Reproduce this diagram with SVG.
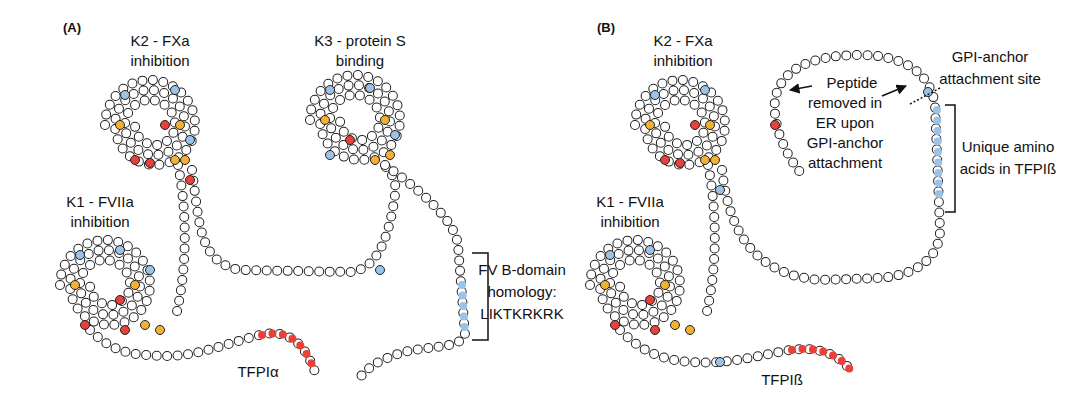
<svg xmlns="http://www.w3.org/2000/svg" width="1092" height="414" viewBox="0 0 1092 414">
<defs>
<style>
.o{fill:none;stroke:#222;stroke-width:10;stroke-linecap:round;stroke-dasharray:0 10.5}
.w{fill:none;stroke:#fff;stroke-width:8;stroke-linecap:round;stroke-dasharray:0 10.5}
.b{fill:none;stroke:#9cc3e6;stroke-width:8;stroke-linecap:round;stroke-dasharray:0 10.5}
.r{fill:none;stroke:#e8413a;stroke-width:8;stroke-linecap:round;stroke-dasharray:0 10.5}
.cb{fill:#9cc3e6;stroke:#222;stroke-width:1}
.cr{fill:#e8413a;stroke:#222;stroke-width:1}
.cy{fill:#f2b134;stroke:#222;stroke-width:1}
text{font-family:"Liberation Sans",Arial,sans-serif;font-size:15px;fill:#111;text-anchor:middle}
.ln{fill:none;stroke:#111;stroke-width:1.5}
</style>
<path id="sp" d="M-45,0 A45,45 0 0 1 45,0 A40,40 0 0 1 -35,0 A35,35 0 0 1 35,0 A30,30 0 0 1 -25,0 A25,25 0 0 1 25,0 A20,20 0 0 1 -15,0"/>
<path id="cA1" d="M178,165 C185,200 190,260 175,320"/>
<path id="cA2" d="M192,170 C200,230 200,262 240,270 L350,272 C380,270 390,230 395,195 C398,175 385,168 382,162"/>
<path id="cA3" d="M385,165 C420,190 455,220 458,245 L465,335 C460,350 420,345 395,355 C375,362 365,370 358,380"/>
<path id="cA4" d="M90,330 C110,350 130,355 150,355 C190,360 220,345 260,335 C290,328 305,345 315,372"/>
<path id="cB1" d="M708,165 C715,200 720,260 705,320"/>
<path id="cB2" d="M722,170 C730,240 760,275 820,280 L880,278 C920,275 940,255 940,230 L935,105 C930,70 900,55 860,55 C810,55 780,70 775,100 C772,130 790,160 800,172"/>
<path id="cB4" d="M620,330 C640,350 660,360 690,362 C730,365 760,355 790,350 C820,346 840,355 852,372"/>
<marker id="ar" viewBox="0 0 10 10" refX="9" refY="5" markerWidth="7" markerHeight="7" orient="auto-start-reverse"><path d="M0,0L10,5L0,10z" fill="#111"/></marker>
</defs>
<g id="connectors">
<use href="#cA1" class="o"/><use href="#cA1" class="w"/>
<use href="#cA2" class="o"/><use href="#cA2" class="w"/>
<use href="#cA3" class="o"/><use href="#cA3" class="w"/>
<use href="#cA4" class="o"/><use href="#cA4" class="w"/>
<use href="#cB1" class="o"/><use href="#cB1" class="w"/>
<use href="#cB2" class="o"/><use href="#cB2" class="w"/>
<use href="#cB4" class="o"/><use href="#cB4" class="w"/>
<path class="b" d="M462,285 L465,335"/>
<path class="r" d="M262,335 C290,328 305,345 315,372"/>
<path class="r" d="M792,350 C820,346 840,355 852,372"/>
<path class="b" d="M937,110 L939,200"/>
</g>
<g id="K2A"><use href="#sp" x="150" y="125" class="o"/><use href="#sp" x="150" y="125" class="w"/></g>
<g id="K3A"><use href="#sp" x="355" y="120" class="o"/><use href="#sp" x="355" y="120" class="w"/></g>
<g id="K1A"><use href="#sp" x="105" y="285" class="o"/><use href="#sp" x="105" y="285" class="w"/></g>
<g id="K2B"><use href="#sp" x="680" y="125" class="o"/><use href="#sp" x="680" y="125" class="w"/></g>
<g id="K1B"><use href="#sp" x="635" y="285" class="o"/><use href="#sp" x="635" y="285" class="w"/></g>
<g id="colored">
<circle class="cy" cx="120" cy="125" r="4.5"/><circle class="cy" cx="180" cy="125" r="4.5"/><circle class="cy" cx="175" cy="160" r="4.5"/><circle class="cy" cx="185" cy="160" r="4.5"/>
<circle class="cr" cx="135" cy="160" r="4.5"/><circle class="cr" cx="150" cy="163" r="4.5"/><circle class="cr" cx="165" cy="125" r="4.5"/><circle class="cr" cx="190" cy="180" r="4.5"/>
<circle class="cb" cx="125" cy="95" r="4.5"/><circle class="cb" cx="175" cy="90" r="4.5"/><circle class="cb" cx="190" cy="140" r="4.5"/>
<circle class="cy" cx="325" cy="120" r="4.5"/><circle class="cy" cx="385" cy="120" r="4.5"/><circle class="cy" cx="375" cy="160" r="4.5"/><circle class="cy" cx="390" cy="155" r="4.5"/>
<circle class="cb" cx="330" cy="90" r="4.5"/><circle class="cb" cx="370" cy="88" r="4.5"/><circle class="cb" cx="395" cy="135" r="4.5"/><circle class="cb" cx="330" cy="155" r="4.5"/><circle class="cb" cx="380" cy="270" r="4.5"/><circle class="cr" cx="350" cy="140" r="4.5"/>
<circle class="cy" cx="75" cy="285" r="4.5"/><circle class="cy" cx="135" cy="285" r="4.5"/><circle class="cy" cx="145" cy="325" r="4.5"/><circle class="cy" cx="160" cy="330" r="4.5"/>
<circle class="cr" cx="85" cy="325" r="4.5"/><circle class="cr" cx="120" cy="300" r="4.5"/><circle class="cr" cx="125" cy="330" r="4.5"/>
<circle class="cb" cx="80" cy="255" r="4.5"/><circle class="cb" cx="120" cy="250" r="4.5"/><circle class="cb" cx="150" cy="270" r="4.5"/>
<circle class="cy" cx="650" cy="125" r="4.5"/><circle class="cy" cx="710" cy="125" r="4.5"/><circle class="cy" cx="705" cy="160" r="4.5"/><circle class="cy" cx="715" cy="160" r="4.5"/>
<circle class="cr" cx="665" cy="160" r="4.5"/><circle class="cr" cx="680" cy="163" r="4.5"/><circle class="cr" cx="695" cy="125" r="4.5"/><circle class="cr" cx="775" cy="125" r="4.5"/>
<circle class="cb" cx="655" cy="95" r="4.5"/><circle class="cb" cx="705" cy="90" r="4.5"/><circle class="cb" cx="720" cy="190" r="4.5"/><circle class="cb" cx="928" cy="92" r="4.5"/>
<circle class="cy" cx="605" cy="285" r="4.5"/><circle class="cy" cx="665" cy="285" r="4.5"/><circle class="cy" cx="675" cy="325" r="4.5"/><circle class="cy" cx="690" cy="330" r="4.5"/>
<circle class="cr" cx="615" cy="325" r="4.5"/><circle class="cr" cx="650" cy="300" r="4.5"/><circle class="cr" cx="655" cy="330" r="4.5"/>
<circle class="cb" cx="610" cy="255" r="4.5"/><circle class="cb" cx="650" cy="250" r="4.5"/><circle class="cb" cx="720" cy="362" r="4.5"/>
</g>
<g id="labels">
<text x="72" y="32" style="font-weight:bold;font-size:13px">(A)</text>
<text x="160" y="46">K2 - FXa</text><text x="160" y="66">inhibition</text>
<text x="360" y="46">K3 - protein S</text><text x="360" y="66">binding</text>
<text x="100" y="207">K1 - FVIIa</text><text x="100" y="227">inhibition</text>
<text x="522" y="275">FV B-domain</text><text x="522" y="297">homology:</text><text x="522" y="319">LIKTKRKRK</text>
<text x="258" y="377">TFPIα</text>
<path class="ln" d="M472,253 H488 V340 H472"/>
<text x="606" y="32" style="font-weight:bold;font-size:13px">(B)</text>
<text x="683" y="46">K2 - FXa</text><text x="683" y="66">inhibition</text>
<text x="990" y="62">GPI-anchor</text><text x="990" y="84">attachment site</text>
<text x="852" y="88">Peptide</text><text x="845" y="108">removed in</text><text x="845" y="128">ER upon</text><text x="845" y="148">GPI-anchor</text><text x="845" y="168">attachment</text>
<text x="1008" y="152">Unique amino</text><text x="1008" y="174">acids in TFPIß</text>
<text x="630" y="207">K1 - FVIIa</text><text x="630" y="227">inhibition</text>
<text x="782" y="385">TFPIß</text>
<path class="ln" d="M945,105 H955 V212 H945"/>
<path class="ln" d="M812,86 L790,90" marker-end="url(#ar)"/>
<path class="ln" d="M882,96 L906,86" marker-end="url(#ar)"/>
<path class="ln" d="M910,104 L940,88" style="stroke-dasharray:2 2"/>
</g>
</svg>
